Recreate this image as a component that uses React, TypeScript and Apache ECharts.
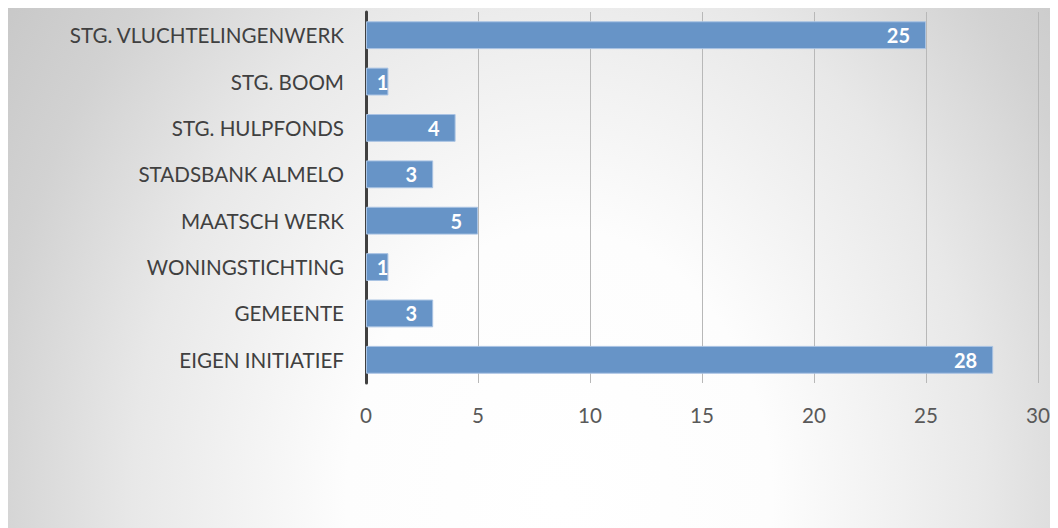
import React, { useEffect, useRef } from "react";
import * as echarts from "echarts";

const categories = [
  "EIGEN INITIATIEF",
  "GEMEENTE",
  "WONINGSTICHTING",
  "MAATSCH WERK",
  "STADSBANK ALMELO",
  "STG. HULPFONDS",
  "STG. BOOM",
  "STG. VLUCHTELINGENWERK",
];
const values = [28, 3, 1, 5, 3, 4, 1, 25];
const xTicks = { min: 0, max: 30, interval: 5 };

export default function App() {
  const ref = useRef<HTMLDivElement>(null);
  useEffect(() => {
    if (!ref.current) return;
    const chart = echarts.init(ref.current, undefined, { renderer: "svg" });
    const W = 1050;
    const H = 1333;
    chart.setOption({
      animation: false,
      backgroundColor: "#c4c4c4",
      graphic: [
        {
          type: "rect",
          z: -100,
          silent: true,
          shape: { x: 0, y: 0, width: W, height: H },
          style: {
            fill: {
              type: "radial",
              x: 0.525,
              y: 0.369,
              r: 0.78,
              colorStops: [
                { offset: 0, color: "#ffffff" },
                { offset: 0.26, color: "#fdfdfd" },
                { offset: 0.52, color: "#e8e8e8" },
                { offset: 0.7, color: "#d2d2d2" },
                { offset: 0.88, color: "#c4c4c4" },
                { offset: 1, color: "#bebebe" },
              ],
            },
          },
        },
      ],
      grid: { left: 358, right: 20, top: 4, bottom: 145, containLabel: false },
      xAxis: {
        type: "value",
        min: xTicks.min,
        max: xTicks.max,
        interval: xTicks.interval,
        axisLine: { show: false },
        axisTick: { show: false },
        splitLine: { show: true, lineStyle: { color: "#b8b8b8", width: 1 } },
        axisLabel: {
          color: "#595959",
          fontFamily: "Lato",
          fontSize: 20.6,
          margin: 21,
        },
      },
      yAxis: {
        type: "category",
        data: categories,
        axisLine: { show: true, lineStyle: { color: "#404040", width: 3 } },
        axisTick: { show: false },
        axisLabel: {
          color: "#404040",
          fontFamily: "Lato",
          fontSize: 20.6,
          margin: 22,
        },
      },
      series: [
        {
          type: "bar",
          barWidth: "60%",
          data: values.map((v) => ({
            value: v,
            label: { distance: v < 2 ? 0 : 16 },
          })),
          itemStyle: {
            color: "#6794c7",
            borderColor: "#a9c3e3",
            borderWidth: 1,
          },
          label: {
            show: true,
            position: "insideRight",
            color: "#ffffff",
            fontFamily: "Lato",
            fontWeight: "bold",
            fontSize: 20,
          },
        },
      ],
    });
    return () => chart.dispose();
  }, []);
  return <div ref={ref} style={{ width: 1050, height: 520 }} />;
}
